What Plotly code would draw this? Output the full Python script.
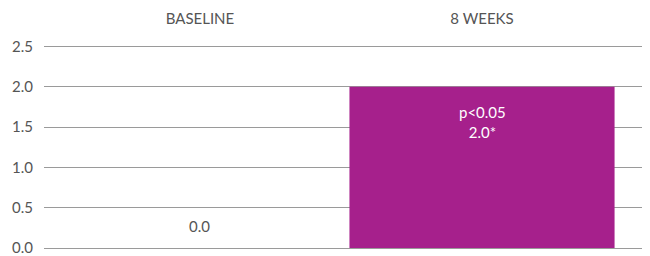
import plotly.graph_objects as go

categories = ["BASELINE", "8 WEEKS"]
values = [0.0, 2.0]
value_labels = ["0.0", "p<0.05<br>2.0*"]
y_ticks = [0.0, 0.5, 1.0, 1.5, 2.0, 2.5]

bar_color = "#A6208C"
grey = "#555555"
font_family = "Lato"

fig = go.Figure()
fig.add_trace(go.Bar(
    x=categories, y=values,
    marker=dict(color=bar_color, line=dict(width=0)),
    width=0.94,
    hoverinfo="skip",
))

# value labels
fig.add_annotation(x=categories[0], y=values[0], text=value_labels[0],
                   showarrow=False, yanchor="bottom", yshift=11,
                   font=dict(family=font_family, size=15, color=grey))
fig.add_annotation(x=categories[1], y=values[1], text=value_labels[1],
                   showarrow=False, yanchor="top", yshift=-14,
                   font=dict(family=font_family, size=15, color="white"))

fig.update_layout(
    width=650, height=248,
    margin=dict(l=36, r=0, t=36, b=8),
    paper_bgcolor="white", plot_bgcolor="white",
    showlegend=False,
    font=dict(family=font_family, size=15, color=grey),
    xaxis=dict(
        side="top", type="category", automargin=False,
        range=[-0.553, 1.624],
        showgrid=False, zeroline=False, showline=False,
        ticks="", ticklabelstandoff=16,
        tickfont=dict(family=font_family, size=15, color=grey),
    ),
    yaxis=dict(
        range=[0, 2.53], automargin=False,
        tickvals=y_ticks, ticktext=[f"{v:.1f}" for v in y_ticks],
        ticklabeloverflow="allow",
        showgrid=True, gridcolor="#9a9a9a", gridwidth=1,
        zeroline=True, zerolinecolor="#9a9a9a", zerolinewidth=1,
        showline=False, ticks="", ticklabelstandoff=10,
        tickfont=dict(family=font_family, size=15, color=grey),
    ),
)

fig.write_html("out.html", config={"displayModeBar": False})
